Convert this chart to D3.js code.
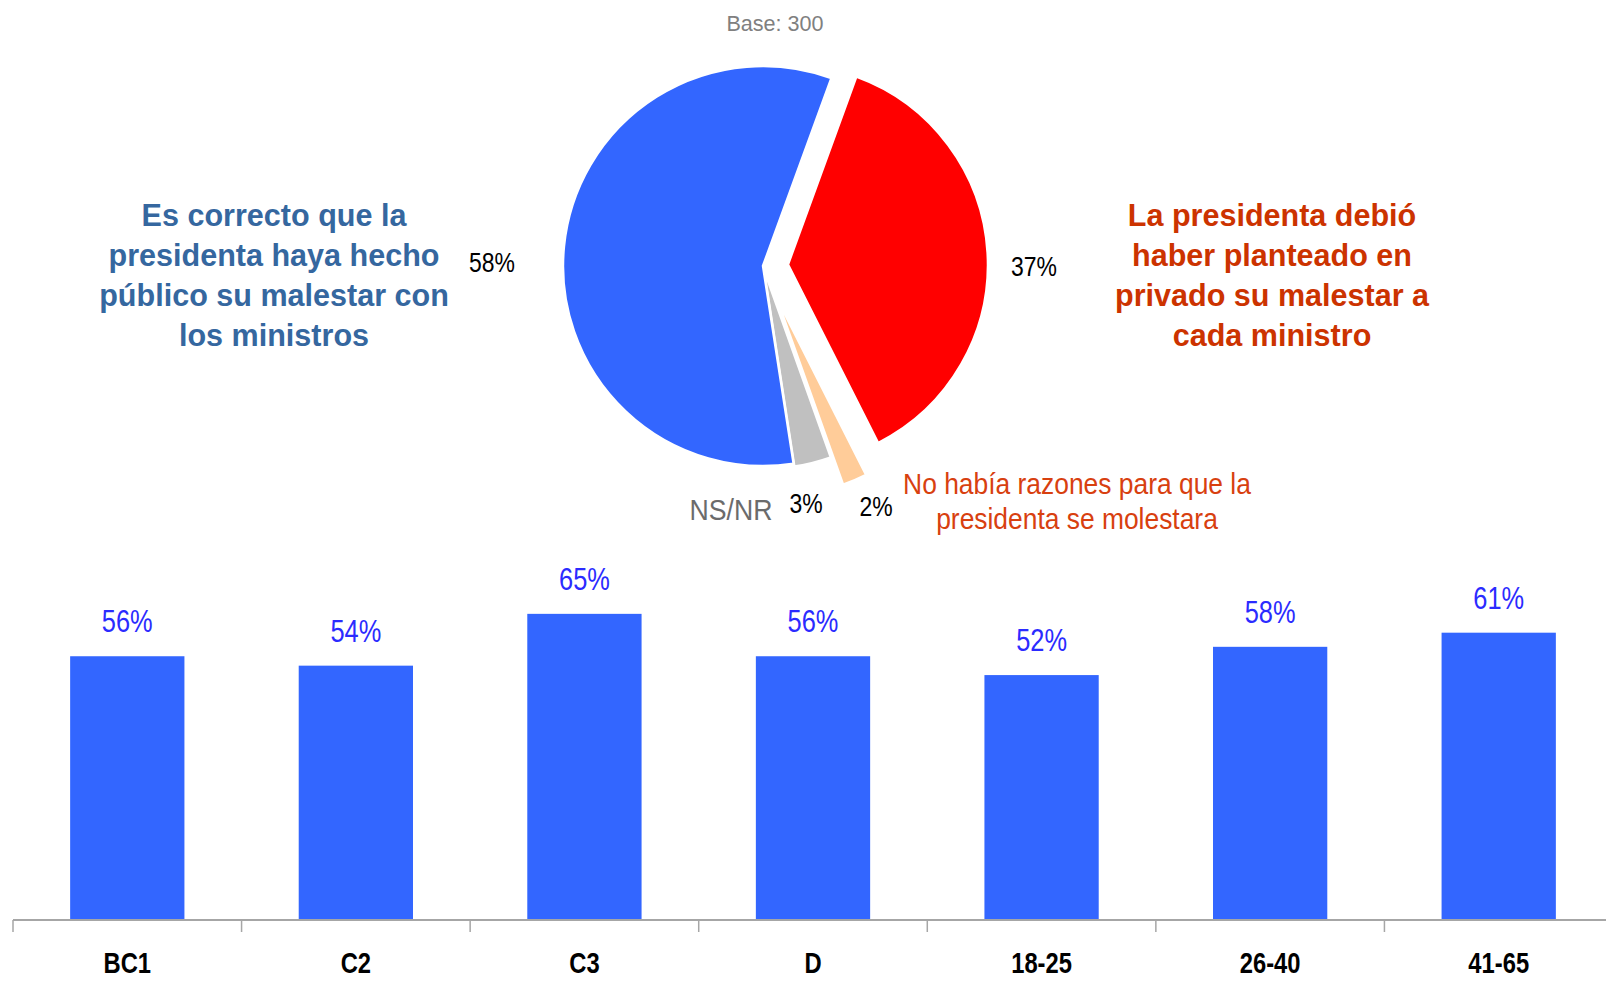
<!DOCTYPE html>
<html><head><meta charset="utf-8">
<script src="https://cdn.jsdelivr.net/npm/d3@7"></script>
<style>
body{margin:0;background:#fff;}
svg text{font-family:"Liberation Sans Narrow","Arial Narrow","Liberation Sans",Arial,sans-serif;}
</style></head>
<body><svg id="c" width="1606" height="981"></svg>
<script>
// ---- data ----
const pieCategories = ["La presidenta debió haber planteado en privado su malestar a cada ministro","No había razones para que la presidenta se molestara","NS/NR","Es correcto que la presidenta haya hecho público su malestar con los ministros"];
const pieValues = [37, 2, 3, 58];
const pieValueLabels = ["37%","2%","3%","58%"];
const baseLabel = "Base: 300";
const barCategories = ["BC1","C2","C3","D","18-25","26-40","41-65"];
const barValues = [56, 54, 65, 56, 52, 58, 61];
const barLabels = ["56%","54%","65%","56%","52%","58%","61%"];
const leftText = ["Es correcto que la","presidenta haya hecho","público su malestar con","los ministros"];
const rightText = ["La presidenta debió","haber planteado en","privado su malestar a","cada ministro"];
const noText = ["No había razones para que la","presidenta se molestara"];

const svg = d3.select("#c");
function txt(parent,x,y,t,size,color,weight,sx){
  return parent.append("text").attr("transform",`translate(${x},${y}) scale(${sx||0.82},1)`)
    .attr("text-anchor","middle").attr("font-size",size)
    .attr("font-weight",weight||"normal").attr("fill",color).text(t);
}

const pieColors = ["#ff0000","#ffcc99","#c0c0c0","#3366ff"];
const explode = [25, 33, 3, 0];
const cx = 763, cy = 266, R = 200;

const pie = d3.pie().sort(null).value(d=>d).startAngle(20*Math.PI/180).endAngle(380*Math.PI/180);
const arcs = pie(pieValues);
const arc = d3.arc().innerRadius(0).outerRadius(R);
const g = svg.append("g").attr("transform",`translate(${cx},${cy})`);
g.selectAll("path").data(arcs).join("path")
  .attr("d", arc)
  .attr("fill",(d,i)=>pieColors[i])
  .attr("stroke","#fff").attr("stroke-width",2.5)
  .attr("transform",(d,i)=>{
    const a=(d.startAngle+d.endAngle)/2;
    return `translate(${Math.sin(a)*explode[i]},${-Math.cos(a)*explode[i]})`;
  });

txt(svg,775,31,baseLabel,22,"#808080","normal",0.98);

// value labels
const pctPos = [[1034,276],[876,516],[806,513],[492,272]];
pieValueLabels.forEach((t,i)=>txt(svg,pctPos[i][0],pctPos[i][1],t,28,"#000"));
txt(svg,731,520,pieCategories[2],29,"#6b6b6b","normal",0.92);

function block(lines,x,y0,dy,size,color,weight,sx){
  lines.forEach((t,i)=>txt(svg,x,y0+i*dy,t,size,color,weight,sx));
}
block(leftText,274,226,40,32,"#35679f","bold",0.955);
block(rightText,1272,226,40,32,"#cc3300","bold",0.955);
block(noText,1077,494,35,30,"#d8400f","normal",0.88);

// ---- bars ----
const x = d3.scaleBand().domain(barCategories).range([13,1613]).paddingInner(0.5).paddingOuter(0.25);
const y = d3.scaleLinear().domain([0,100]).range([920,449]);
svg.selectAll("rect.bar").data(barValues).join("rect").attr("class","bar")
  .attr("x",(d,i)=>x(barCategories[i])).attr("width",x.bandwidth())
  .attr("y",d=>y(d)).attr("height",d=>y(0)-y(d)).attr("fill","#3366ff");
barValues.forEach((d,i)=>txt(svg,x(barCategories[i])+x.bandwidth()/2,y(d)-24,barLabels[i],31,"#2b2bff"));

const xb = d3.scaleBand().domain(barCategories).range([13,1613]);
const ax = svg.append("g").attr("transform","translate(0,920)");
ax.append("line").attr("x1",13).attr("x2",1606).attr("stroke","#a6a6a6").attr("stroke-width",2);
ax.selectAll("line.t").data(barCategories).join("line").attr("class","t")
  .attr("x1",d=>xb(d)).attr("x2",d=>xb(d)).attr("y1",0).attr("y2",12)
  .attr("stroke","#a6a6a6").attr("stroke-width",1.5);
barCategories.forEach(d=>txt(ax,xb(d)+xb.bandwidth()/2,53,d,29,"#000","bold"));
</script></body></html>
